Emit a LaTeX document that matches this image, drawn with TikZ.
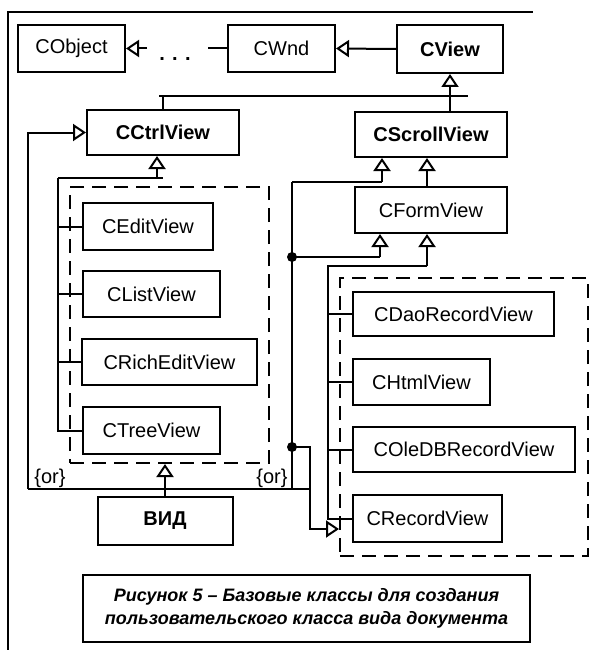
\documentclass[tikz,border=0pt]{standalone}
\usepackage{fontspec}
\setmainfont{Liberation Sans}
\usetikzlibrary{arrows.meta}
\begin{document}
\begin{tikzpicture}[x=1pt,y=-1pt]
    \tikzstyle{cls}=[draw=black, line width=2pt, inner sep=2pt, minimum height=46pt, font=\fontsize{20}{24}\selectfont, text=black]
    \tikzstyle{clsb}=[cls, font=\fontsize{20}{24}\selectfont\bfseries]
    \tikzstyle{grp}=[draw=black, line width=2pt, dash pattern=on 14pt off 8pt, inner sep=0pt]
    \tikzstyle{edge}=[black, line width=2pt]
    \tikzstyle{inh}=[black, line width=2pt, -{Triangle[open, length=13pt, width=17pt]}]
    \tikzstyle{lbl}=[font=\fontsize{20}{24}\selectfont, inner sep=0pt, text=black]

    \useasboundingbox (0,0) rectangle (605,650);
    \draw[edge, line width=1.4pt] (8,650) -- (8,12) -- (533,12);

    \node[grp, minimum width=199pt, minimum height=276pt] (lgrp) at (169.5,325) {};
    \node[grp, minimum width=248pt, minimum height=278pt] (rgrp) at (464,417) {};

    \node[cls, minimum width=107pt, minimum height=47pt] (cobject) at (71.5,48.5) {CObject};
    \node[lbl, anchor=base] (dots) at (175,61) {\bfseries. . .};
    \node[cls, minimum width=107pt, minimum height=47pt] (cwnd) at (281.5,48.5) {CWnd};
    \node[clsb, minimum width=106pt, minimum height=48pt] (cview) at (450,49) {CView};
    \node[clsb, minimum width=152pt, minimum height=45pt] (cctrl) at (163,132.5) {CCtrlView};
    \node[clsb, minimum width=152pt, minimum height=45pt] (cscroll) at (431,134.5) {CScrollView};
    \node[cls, minimum width=152pt] (cform) at (431,210) {CFormView};
    \node[cls, minimum width=130pt, minimum height=47pt] (cedit) at (148,226.5) {CEditView};
    \node[cls, minimum width=137pt] (clist) at (151.5,294) {CListView};
    \node[cls, minimum width=175pt] (crich) at (169.5,362) {CRichEditView};
    \node[cls, minimum width=137pt, minimum height=47pt] (ctree) at (151.5,430.5) {CTreeView};
    \node[clsb, minimum width=135pt, minimum height=48pt] (vid) at (165,521) {ВИД};
    \node[cls, minimum width=201pt, minimum height=44pt] (cdao) at (453.5,314) {CDaoRecordView};
    \node[cls, minimum width=137pt] (chtml) at (421.5,382) {CHtmlView};
    \node[cls, minimum width=222pt, minimum height=45pt] (coledb) at (464,449.5) {COleDBRecordView};
    \node[cls, minimum width=149pt, minimum height=47pt] (crecord) at (427.5,518.5) {CRecordView};
    \node[cls, minimum width=447pt, minimum height=67pt, align=center, font=\fontsize{18}{23}\selectfont\bfseries\itshape] (caption) at (306.5,608.5) {Рисунок 5 – Базовые классы для создания\\пользовательского класса вида документа};

    \coordinate (dl) at (147,48.5);
    \coordinate (dr) at (208,48.5);
    \coordinate (bl) at (159,96);
    \coordinate (br) at (468,96);
    \coordinate (lb) at (28,489);
    \coordinate (rb) at (310,489);
    \coordinate (ct) at (157,178);
    \coordinate (lt) at (58,178);
    \coordinate (rt) at (292,182);
    \coordinate (s1) at (382,182);
    \coordinate (j1) at (292,257);
    \coordinate (j2) at (292,447);
    \coordinate (f1) at (380,257);
    \coordinate (f2) at (427,266);
    \coordinate (rl) at (328,266);
    \coordinate (ab) at (310,529);

    \draw[inh] (dl) -- (cobject.east);
    \draw[edge] (dr) -- (cwnd.west);
    \draw[inh] (cview.west) -- (cwnd.east);
    \draw[edge] (bl) -- (br);
    \draw[edge] (cctrl.north) -- (cctrl.north |- bl);
    \draw[inh] (cview.south |- cscroll.north) -- (cview.south);
    \draw[inh] (lb) |- (cctrl.west);
    \draw[edge] (lb) -- (rb);

    \draw[inh] (ct) -- (ct |- cctrl.south);
    \draw[edge] (lt) -- (lt -| cctrl.north);
    \draw[edge] (lt) |- (ctree.west);
    \foreach \n in {cedit, clist, crich}
        \draw[edge] (lt |- \n.west) -- (\n.west);
    \draw[inh] (vid.north) -- (vid.north |- lgrp.south);

    \draw[edge] (rt) -- (rt |- lb);
    \draw[edge] (rt) -- (s1);
    \draw[inh] (s1) -- (s1 |- cscroll.south);
    \draw[inh] (cform.north -| f2) -- (f2 |- cscroll.south);
    \draw[edge] (j1) -- (f1);
    \draw[inh] (f1) -- (f1 |- cform.south);
    \draw[inh] (f2) -- (f2 |- cform.south);
    \draw[edge] (f2) -- (rl) |- (crecord.west);
    \foreach \n in {cdao, chtml, coledb}
        \draw[edge] (rl |- \n.west) -- (\n.west);
    \draw[inh] (j2) -| (ab) -- (ab -| rgrp.west);
    \fill (j1) circle (5pt);
    \fill (j2) circle (5pt);

    \node[lbl] (or1) at (50,478) {\{or\}};
    \node[lbl] (or2) at (272,478) {\{or\}};
\end{tikzpicture}
\end{document}
